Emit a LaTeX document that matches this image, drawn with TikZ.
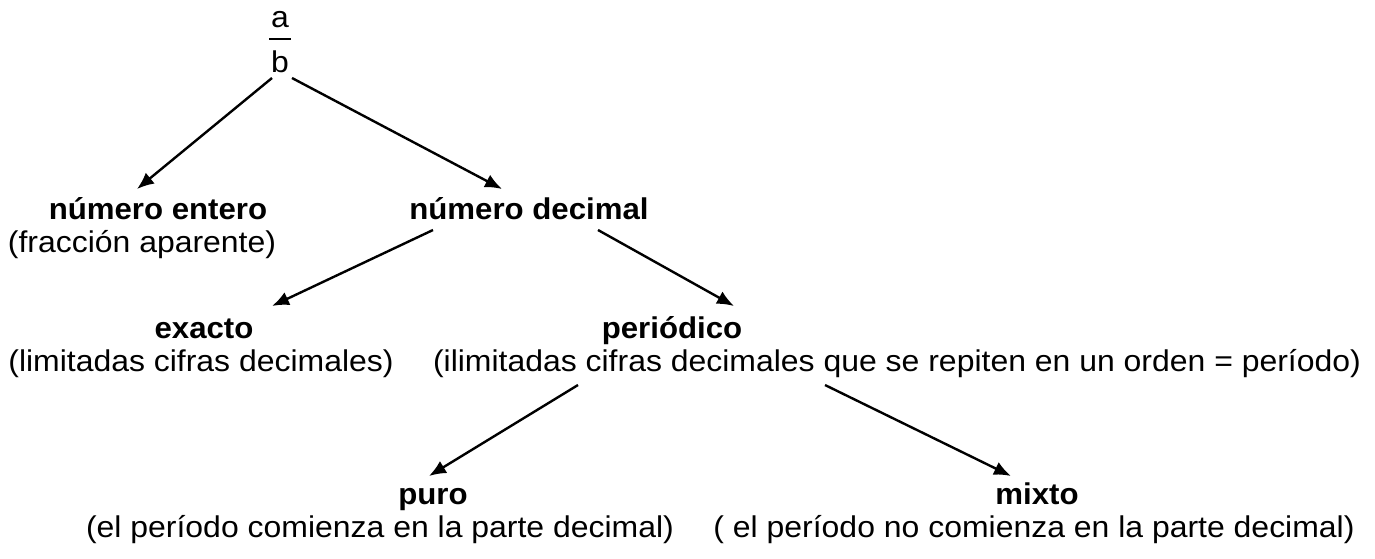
\documentclass[tikz,border=0pt]{standalone}
\usepackage{fontspec}
\setmainfont{Liberation Sans}
\usepackage{graphicx}
\usetikzlibrary{arrows.meta}
\newcommand{\hs}[1]{\scalebox{1.065}[1]{#1}}
\newcommand{\hb}[1]{\scalebox{1.04}[1]{#1}}
\tikzset{
  title/.style={font=\fontsize{30}{34}\selectfont\bfseries, inner sep=0pt, anchor=base},
  desc/.style={font=\fontsize{30}{34}\selectfont, inner sep=0pt, anchor=base},
  arr/.style={-{Latex[length=17pt,width=14pt]}, line width=2.4pt},
  bar/.style={line width=1.6pt}
}
\begin{document}
\begin{tikzpicture}[x=1pt,y=-1pt]
\useasboundingbox (0,0) rectangle (1375,558);
% fraction
\node[desc] (a) at (280,27) {\hs{a}};
\node[desc] (b) at (280,72) {\hs{b}};
\coordinate (barL) at (269,39);
\coordinate (barR) at (291,39);
\draw[bar] (barL) -- (barR);
% level 1
\node[title] (entero) at (158,219) {\hb{número entero}};
\node[desc] (enteroD) at (142,252) {\hs{(fracción aparente)}};
\node[title] (decimal) at (529,219) {\hb{número decimal}};
% level 2
\node[title] (exacto) at (204,338) {\hb{exacto}};
\node[desc] (exactoD) at (201,371) {\hs{(limitadas cifras decimales)}};
\node[title] (periodico) at (672,338) {\hb{periódico}};
\node[desc] (periodicoD) at (897,371) {\hs{(ilimitadas cifras decimales que se repiten en un orden = período)}};
% level 3
\node[title] (puro) at (433,504) {\hb{puro}};
\node[desc] (puroD) at (380,537) {\hs{(el período comienza en la parte decimal)}};
\node[title] (mixto) at (1037,504) {\hb{mixto}};
\node[desc] (mixtoD) at (1034,537) {\hs{( el período no comienza en la parte decimal)}};
% arrow end points
\coordinate (s1) at (272,78);  \coordinate (e1) at (137,189);
\coordinate (s2) at (292,78);  \coordinate (e2) at (502,189);
\coordinate (s3) at (433,230); \coordinate (e3) at (272,306);
\coordinate (s4) at (598,230); \coordinate (e4) at (734,306);
\coordinate (s5) at (578,385); \coordinate (e5) at (429,476);
\coordinate (s6) at (825,385); \coordinate (e6) at (1011,476);
\draw[arr] (s1) -- (e1);
\draw[arr] (s2) -- (e2);
\draw[arr] (s3) -- (e3);
\draw[arr] (s4) -- (e4);
\draw[arr] (s5) -- (e5);
\draw[arr] (s6) -- (e6);
\end{tikzpicture}
\end{document}
